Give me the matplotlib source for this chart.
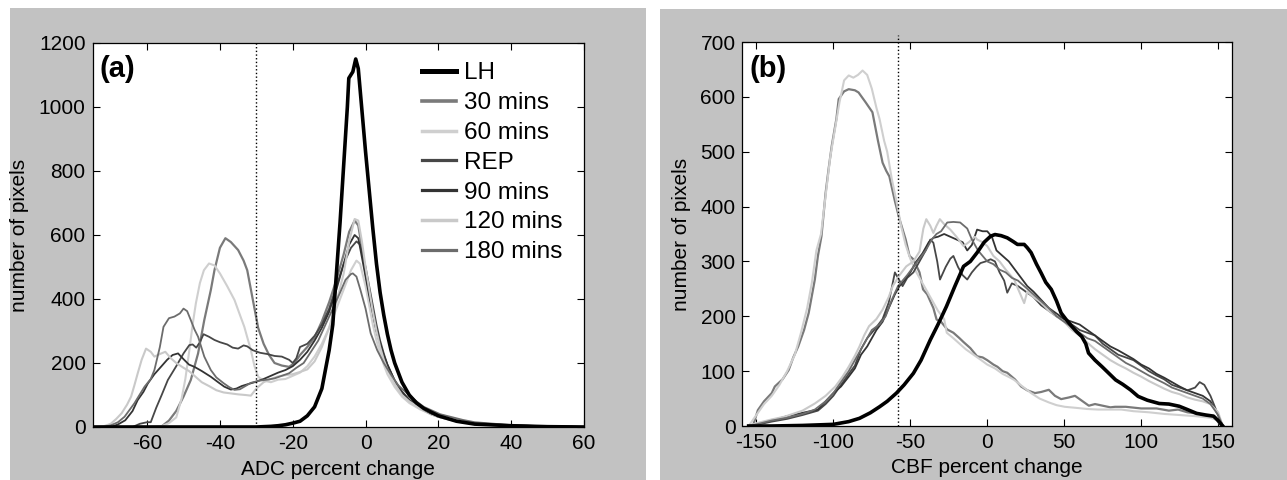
import matplotlib
matplotlib.use("Agg")
import matplotlib.pyplot as plt
from matplotlib.patches import Rectangle

plt.rcParams["font.family"] = ["Liberation Sans", "DejaVu Sans"]
plt.rcParams["axes.unicode_minus"] = False

# ---------------------------------------------------------------------------
# Data
# ---------------------------------------------------------------------------
labels = ["LH", "30 mins", "60 mins", "REP", "90 mins", "120 mins", "180 mins"]
colors = ["#000000", "#7a7a7a", "#cfcfcf", "#474747", "#333333", "#c9c9c9", "#6c6c6c"]
widths = [2.6, 1.6, 1.5, 1.3, 1.3, 1.5, 1.3]

# (a) ADC percent change
adc_lh_x = [-75, -30, -28, -26, -24, -22, -20, -18, -16, -14, -12, -10, -9, -8, -7, -6, -5, -4.6, -3.5, -2.7,
            -2, -1, 0, 1, 2, 3, 4, 5, 6, 7, 8, 10, 12, 14, 16, 20, 25, 30, 40, 50, 60]
adc_lh_y = [0, 0, 1, 2, 4, 7, 12, 18, 35, 63, 120, 240, 320, 480, 640, 820, 1000, 1090, 1110, 1150,
            1120, 990, 860, 740, 620, 510, 420, 350, 290, 240, 200, 140, 100, 75, 58, 35, 18, 9, 4, 1, 0]

adc_30_x = [-75, -58, -56, -54, -52, -50, -48, -46, -44.3, -42.5, -41.5, -40, -38.5, -37, -35, -33.5, -32.5,
            -31, -29.5, -28, -26.5, -25, -23, -21, -19.5, -18, -16, -14, -12, -10, -8, -6, -4.5, -3, -2,
            -1, 0, 1, 2, 3, 4, 5, 6, 8, 10, 12, 15, 18, 20, 25, 30, 35, 40, 50, 60]
adc_30_y = [0, 0, 2, 20, 50, 95, 147, 230, 334, 428, 490, 560, 590, 578, 553, 520, 490,
            400, 310, 260, 225, 200, 192, 188, 200, 225, 250, 280, 330, 390, 460, 540, 610, 645, 630,
            560, 480, 420, 360, 300, 260, 220, 190, 140, 105, 80, 58, 40, 32, 18, 10, 6, 4, 2, 0]

adc_60_x = [-75, -60, -56, -54, -52, -50.5, -49.5, -48.4, -47.5, -46.6, -45.5, -44.4, -43, -41.5, -40, -38,
            -36, -34.5, -33.3, -31.5, -30.5, -29.5, -28, -26, -24, -22, -20, -18, -16, -14, -12, -10, -8,
            -6, -4, -2.5, -1.5, 0, 1, 2, 3, 4, 5, 6, 8, 10, 12, 15, 18, 20, 25, 30, 40, 50, 60]
adc_60_y = [0, 0, 3, 12, 30, 90, 150, 240, 320, 387, 450, 490, 511, 505, 480, 440,
            397, 350, 313, 240, 190, 157, 145, 140, 148, 150, 160, 170, 190, 220, 260, 310, 370,
            430, 490, 520, 510, 440, 380, 320, 270, 230, 195, 165, 125, 95, 75, 55, 40, 32, 18, 10, 4, 2, 0]

adc_rep_x = [-75, -64, -62, -60, -59, -57.5, -56, -54.3, -52, -50, -48.4, -47.5, -46.5, -45.5, -44.5, -43,
             -41.5, -40, -38, -36.5, -35, -33.5, -32.5, -31, -29, -27, -25, -23, -21, -20, -19, -18, -16,
             -14, -12, -10, -8, -6, -4, -2.5, -1.5, 0, 1, 2, 3, 4, 5, 6, 8, 10, 12, 15, 18, 20, 25, 30,
             40, 50, 60]
adc_rep_y = [0, 0, 10, 15, 15, 60, 100, 147, 190, 230, 256, 258, 248, 265, 290, 282,
             272, 265, 258, 248, 245, 255, 252, 240, 232, 228, 222, 220, 210, 200, 215, 250, 260,
             285, 320, 370, 440, 510, 560, 580, 570, 500, 440, 380, 320, 270, 230, 195, 145, 110, 85,
             60, 42, 35, 20, 12, 5, 2, 0]

adc_90_x = [-75, -70, -68, -66, -64, -62.6, -61, -59.8, -58, -56.2, -54.5, -53, -51.5, -50, -48.5, -47, -45,
            -42.5, -40.5, -38.8, -37, -35.5, -34, -32, -30.5, -28, -26, -24, -22, -20, -18, -16, -14, -12,
            -10, -8, -6, -4.5, -3, -2, -1, 0, 1, 2, 3, 4, 5, 6, 8, 10, 12, 15, 18, 20, 25, 30, 40, 50, 60]
adc_90_y = [0, 0, 8, 21, 50, 84, 110, 136, 165, 188, 210, 225, 230, 212, 195, 188, 175,
            157, 140, 126, 117, 120, 128, 135, 140, 150, 160, 170, 178, 190, 210, 235, 270, 310,
            360, 430, 510, 570, 600, 590, 530, 470, 410, 355, 300, 260, 225, 195, 145, 110, 85, 60,
            43, 35, 20, 12, 5, 2, 0]

adc_120_x = [-75, -72, -70, -68.5, -67, -65.5, -64.4, -63.5, -62.6, -61.5, -60.3, -59, -58, -56.5, -55,
             -53.5, -52, -50, -48.5, -47, -45, -43, -41, -39, -37, -35, -33, -31.5, -30, -28, -26, -24,
             -22, -20, -18, -16, -14, -12, -10, -8, -6, -4.5, -3, -2, -1, 0, 1, 2, 3, 4, 5, 6, 8, 10,
             12, 15, 18, 20, 25, 30, 40, 50, 60]
adc_120_y = [0, 2, 10, 25, 43, 70, 95, 130, 167, 210, 245, 235, 220, 228, 235,
             215, 200, 185, 175, 160, 140, 128, 115, 108, 105, 102, 100, 98, 120, 140, 150, 158,
             162, 165, 172, 180, 205, 250, 310, 390, 480, 580, 650, 645, 580, 500, 430, 360, 300,
             250, 210, 180, 135, 100, 80, 58, 45, 38, 22, 12, 5, 2, 0]

adc_180_x = [-75, -72, -70, -68, -66.2, -63.5, -60.7, -59, -58, -56.5, -55.5, -54, -52.5, -51, -50, -49,
             -48, -47, -46, -44.3, -42.5, -41, -39, -37.5, -36, -34.5, -33, -31.5, -29, -27, -25, -23,
             -21, -19, -17, -15, -13, -11, -9, -7, -5.5, -4, -3.5, -2.5, -1.4, 0, 1.4, 3.2, 5, 6.8, 9,
             11.4, 14, 16, 20.5, 26.8, 30, 40, 50, 60]
adc_180_y = [0, 1, 5, 15, 32, 74, 126, 150, 178, 250, 313, 340, 345, 355, 370, 362,
             334, 305, 282, 220, 178, 155, 137, 125, 116, 118, 128, 138, 145, 148, 152, 160,
             168, 185, 200, 235, 270, 320, 370, 420, 460, 478, 480, 470, 428, 370, 293, 240, 200, 167,
             130, 105, 80, 63, 40, 22, 15, 6, 2, 0]

# (b) CBF percent change
cbf_lh_x = [-155, -140, -120, -110, -100, -90, -83, -76, -70, -65, -59, -54, -48, -43, -37, -32, -26.5, -21,
            -15.4, -11, -6.6, -2, 2.2, 5, 9, 13, 17, 19.6, 24, 26, 28.5, 32, 35, 38, 41.6, 45, 48, 51,
            54.8, 58, 61.4, 64, 65.8, 70, 74.6, 79, 83.4, 88, 93, 98, 104, 111.7, 118, 124.7, 130, 136,
            142, 147, 150, 153]
cbf_lh_y = [0, 0, 1, 2, 3, 8, 14, 24, 35, 45, 60, 75, 96, 120, 157, 185, 218, 255,
            291, 300, 316, 335, 346, 349, 347, 343, 336, 331, 331, 325, 316, 295, 279, 262, 249, 228, 206, 195,
            182, 172, 163, 150, 133, 120, 108, 96, 84, 76, 66, 54, 47, 41, 40, 36, 30, 23,
            20, 18, 10, 0]

cbf_30_x = [-155, -152, -149, -145, -140, -138, -133, -129, -126, -122.8, -119, -116, -112, -110, -107.7,
            -105, -103, -101, -98, -96.5, -93, -90, -86, -83.6, -79, -74.6, -71, -68, -65.6, -63.6, -60,
            -57, -53, -50.5, -48, -44, -41.7, -39, -35, -32.9, -30, -26, -22, -18, -15.4, -11, -6.6, -3,
            0, 4, 6.6, 10, 13, 18, 22, 26, 31, 35, 40, 44, 48, 53, 57, 62, 66, 70, 75, 80, 83, 90, 100,
            110, 118, 124, 130, 138, 144, 148, 152]
cbf_30_y = [0, 2, 29, 45, 60, 72, 85, 102, 125, 145, 175, 206, 267, 310, 346,
            425, 470, 511, 560, 596, 610, 614, 612, 608, 590, 572, 520, 480, 465, 455, 410,
            377, 340, 310, 304, 280, 249, 240, 215, 194, 190, 176, 170, 160, 153, 142, 127, 125,
            120, 112, 108, 100, 97, 85, 72, 65, 60, 62, 66, 55, 49, 52, 55, 45, 37, 40, 37, 34, 35, 35, 32,
            32, 28, 30, 25, 22, 18, 15, 0]

cbf_60_x = [-155, -150, -145, -140, -135, -130, -125, -121, -117, -114, -111, -108, -105, -102, -99, -96,
            -93, -90, -87, -84, -81, -78, -75, -72, -70, -67, -65, -62, -59, -56, -53, -50, -47, -44, -41,
            -38, -35, -32, -28, -26.3, -22, -18, -14, -10, -4.4, 0, 5, 10, 15, 17.5, 22, 28.5, 34, 40, 45,
            50.4, 58, 65, 72, 80, 87, 95, 105, 115, 125, 135, 145, 150, 153]
cbf_60_y = [0, 20, 40, 55, 75, 100, 130, 170, 215, 260, 320, 350, 420, 490, 540, 590,
            630, 639, 635, 640, 648, 640, 615, 580, 560, 520, 500, 450, 410, 365, 330, 305, 285, 270, 255,
            240, 225, 210, 195, 170, 160, 150, 140, 132, 121, 112, 105, 95, 88, 84, 74, 60, 50, 43, 38,
            35, 33, 31, 30, 30, 30, 27, 25, 22, 20, 18, 15, 10, 0]

cbf_rep_x = [-155, -150, -140, -130, -120, -110, -105, -100, -95, -90, -86, -82, -78, -75, -72, -68, -64,
             -60, -58, -55, -52, -48, -44, -40, -37, -35, -32.5, -30.7, -27, -24, -22, -19, -16, -13, -10,
             -7, -4.4, -1, 2.2, 5, 8, 11, 13, 16, 20, 25, 30, 35, 40, 45, 50, 55, 60, 65, 70, 75, 80, 85,
             90, 95, 100, 105, 110, 115, 120, 125, 130, 135, 138, 141, 145, 150, 153]
cbf_rep_y = [0, 2, 8, 13, 20, 28, 40, 55, 75, 95, 110, 140, 160, 170, 180, 195, 225,
             280, 270, 255, 270, 280, 300, 320, 340, 334, 300, 267, 290, 305, 310, 290, 275, 267, 280,
             290, 297, 300, 304, 300, 280, 265, 243, 260, 255, 245, 235, 220, 210, 200, 195, 185, 175, 170,
             165, 150, 140, 130, 125, 120, 110, 100, 92, 85, 75, 70, 65, 70, 80, 75, 55, 20, 0]

cbf_90_x = [-155, -150, -140, -130, -120, -110, -105, -100, -95, -90, -86, -82, -78, -75, -72, -68, -64,
            -60, -57, -54, -50, -46, -42, -38, -35, -32, -28, -24, -20, -16, -13, -10, -6.6, -3, 0, 3, 6,
            10, 14, 18, 22, 26, 30, 35, 40, 45, 50, 55, 60, 65, 70, 75, 80, 85, 90, 95, 100, 105, 110,
            115, 120, 125, 130, 135, 140, 145, 150, 153]
cbf_90_y = [0, 3, 10, 18, 24, 30, 45, 60, 72, 90, 105, 130, 145, 160, 175, 190, 215,
            240, 255, 265, 280, 300, 315, 335, 343, 345, 350, 345, 340, 335, 320, 330, 358, 355, 355, 345,
            320, 310, 300, 285, 270, 255, 245, 230, 215, 205, 195, 190, 185, 175, 165, 155, 145, 138, 130,
            122, 112, 105, 95, 88, 80, 72, 65, 60, 55, 45, 20, 0]

cbf_120_x = [-155, -150, -140, -131.6, -120, -112, -105, -98.7, -94, -90, -86, -83, -80, -76.8, -72, -68,
             -64, -61.4, -57, -52.6, -48, -44, -41.5, -39.6, -37, -35, -33, -30.8, -28, -24, -20, -15.4,
             -12, -8, -6.6, -3, 0, 4, 8, 12, 17.5, 20, 24, 26, 30, 35, 40, 45, 50, 55, 60, 65, 70, 75, 80,
             85, 90, 95, 100, 105, 110, 115, 120, 125, 130, 135, 140, 145, 150, 153]
cbf_120_y = [0, 5, 12, 17, 28, 41, 55, 72, 90, 108, 128, 145, 165, 182, 195, 212,
             235, 255, 275, 291, 300, 318, 360, 377, 365, 352, 365, 377, 368, 358, 345, 328,
             335, 345, 340, 335, 328, 310, 300, 285, 267, 250, 224, 245, 235, 225, 210, 200, 190, 175, 165,
             152, 140, 130, 120, 112, 105, 97, 90, 82, 75, 68, 62, 58, 52, 48, 45, 40, 25, 0]

cbf_180_x = [-155, -150, -140, -130, -120, -112, -105, -100, -95, -90, -85, -80, -75, -70, -66, -62, -58,
             -55, -52, -48, -44, -40, -36, -33, -30, -26, -22, -17.6, -13, -10, -6, -3, 0, 4, 8, 12, 16,
             20, 24, 28, 32, 36, 40, 45, 50, 55, 60, 65, 70, 75, 80, 85, 90, 95, 100, 105, 110, 115, 120,
             125, 130, 135, 140, 145, 150, 153]
cbf_180_y = [0, 3, 10, 15, 22, 30, 45, 60, 80, 100, 125, 150, 175, 185, 200, 230, 255,
             265, 275, 290, 305, 320, 340, 350, 355, 371, 372, 371, 360, 340, 320, 310, 300, 295, 285, 280, 270,
             265, 255, 245, 235, 225, 215, 200, 190, 180, 170, 160, 155, 145, 135, 125, 115, 108, 100, 92,
             85, 78, 70, 65, 60, 55, 50, 40, 20, 0]

adc_series = [(adc_lh_x, adc_lh_y), (adc_30_x, adc_30_y), (adc_60_x, adc_60_y), (adc_rep_x, adc_rep_y),
              (adc_90_x, adc_90_y), (adc_120_x, adc_120_y), (adc_180_x, adc_180_y)]
cbf_series = [(cbf_lh_x, cbf_lh_y), (cbf_30_x, cbf_30_y), (cbf_60_x, cbf_60_y), (cbf_rep_x, cbf_rep_y),
              (cbf_90_x, cbf_90_y), (cbf_120_x, cbf_120_y), (cbf_180_x, cbf_180_y)]

adc_threshold = -30
cbf_threshold = -58

# ---------------------------------------------------------------------------
# Figure
# ---------------------------------------------------------------------------
W, H = 1287, 480
fig = plt.figure(figsize=(W / 100, H / 100), dpi=100, facecolor="white")

PANEL_GRAY = "#c2c2c2"
fig.patches.append(Rectangle((10 / W, 0), 636 / W, 1 - 8 / H, transform=fig.transFigure,
                             facecolor=PANEL_GRAY, edgecolor="none", zorder=-10))
fig.patches.append(Rectangle((660 / W, 0), 627 / W, 1 - 9 / H, transform=fig.transFigure,
                             facecolor=PANEL_GRAY, edgecolor="none", zorder=-10))

FS_TICK = 15
FS_LABEL = 15

ax1 = fig.add_axes([92.5 / W, 1 - 427 / H, 491.5 / W, 384 / H])
ax2 = fig.add_axes([742.5 / W, 1 - 426 / H, 489.5 / W, 384 / H])
ax1.set_zorder(2)
ax2.set_zorder(2)


def style_axes(ax):
    ax.set_facecolor("white")
    for sp in ax.spines.values():
        sp.set_linewidth(0.9)
        sp.set_color("black")
    ax.tick_params(direction="in", top=True, right=True, length=5, width=0.8,
                   labelsize=FS_TICK, pad=5)


# ── (a) ADC ────────────────────────────────────────────────────────────────
for (x, y), lab, c, lw in zip(adc_series, labels, colors, widths):
    ax1.plot(x, y, color=c, lw=lw, label=lab)
# draw LH on top
ax1.get_lines()[0].set_zorder(5)
ax1.plot([adc_threshold, adc_threshold], [0, 1200], ls=":", color="black", lw=1.0)
ax1.set_xlim(-75, 60)
ax1.set_ylim(0, 1200)
ax1.set_xticks([-60, -40, -20, 0, 20, 40, 60])
ax1.set_yticks(range(0, 1201, 200))
ax1.set_xlabel("ADC percent change", fontsize=FS_LABEL)
ax1.set_ylabel("number of pixels", fontsize=FS_LABEL)
ax1.xaxis.set_label_coords(0.5, -0.085)
ax1.yaxis.set_label_coords(-0.13, 0.5)
style_axes(ax1)
ax1.text(0.015, 0.932, "(a)", transform=ax1.transAxes, fontsize=21, fontweight="bold",
         ha="left", va="center")
leg = ax1.legend(loc="upper left", bbox_to_anchor=(0.66, 0.962), frameon=False,
                 fontsize=17.5, handlelength=1.4, handletextpad=0.33, labelspacing=0.32,
                 borderpad=0.2, borderaxespad=0)
for line in leg.get_lines():
    line.set_linewidth(line.get_linewidth() + 1.0)

# ── (b) CBF ────────────────────────────────────────────────────────────────
for (x, y), lab, c, lw in zip(cbf_series, labels, colors, widths):
    ax2.plot(x, y, color=c, lw=lw, label=lab)
ax2.get_lines()[0].set_zorder(5)
ax2.plot([cbf_threshold, cbf_threshold], [0, 712], ls=":", color="black", lw=1.0, clip_on=False)
ax2.set_xlim(-159, 159)
ax2.set_ylim(0, 700)
ax2.set_xticks([-150, -100, -50, 0, 50, 100, 150])
ax2.set_yticks(range(0, 701, 100))
ax2.set_xlabel("CBF percent change", fontsize=FS_LABEL)
ax2.set_ylabel("number of pixels", fontsize=FS_LABEL)
ax2.xaxis.set_label_coords(0.5, -0.083)
ax2.yaxis.set_label_coords(-0.105, 0.5)
style_axes(ax2)
ax2.text(0.015, 0.965, "(b)", transform=ax2.transAxes, fontsize=21, fontweight="bold",
         ha="left", va="top")

fig.savefig("out.png", dpi=100, facecolor=fig.get_facecolor())
